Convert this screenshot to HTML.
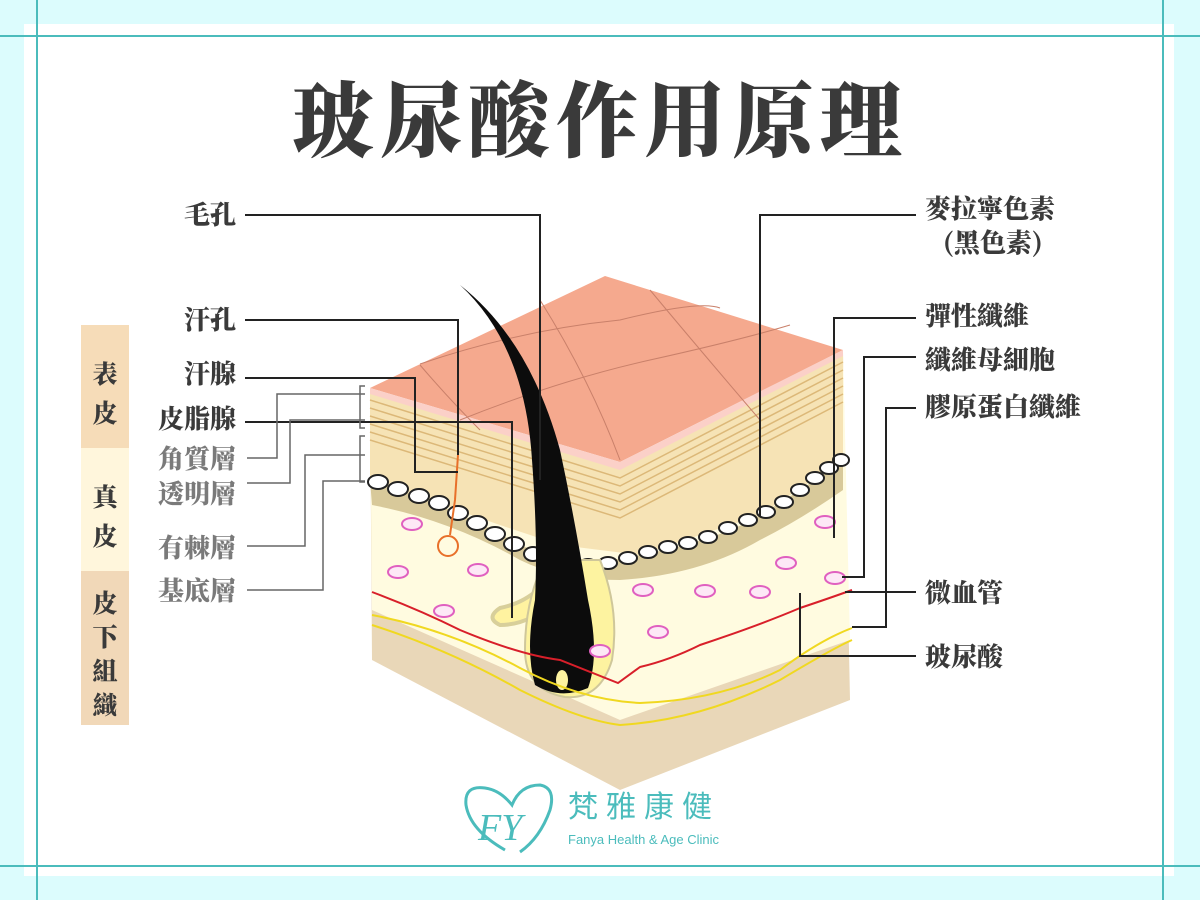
<!DOCTYPE html>
<html><head><meta charset="utf-8"><style>
html,body{margin:0;padding:0;}
body{width:1200px;height:900px;position:relative;background:#dcfcfd;overflow:hidden;font-family:"Liberation Serif","Noto Serif CJK SC",serif;}
</style></head><body>
<svg width="1200" height="900" viewBox="0 0 1200 900" style="position:absolute;left:0;top:0">
<rect x="24" y="24" width="1150" height="852" fill="#fff"/>
<line x1="0" y1="36" x2="1200" y2="36" stroke="#4bbcbc" stroke-width="2"/>
<line x1="0" y1="866" x2="1200" y2="866" stroke="#4bbcbc" stroke-width="2"/>
<line x1="37" y1="0" x2="37" y2="900" stroke="#4bbcbc" stroke-width="2"/>
<line x1="1163" y1="0" x2="1163" y2="900" stroke="#4bbcbc" stroke-width="2"/>

<text x="600" y="150" text-anchor="middle" font-size="82" font-weight="900" fill="#3a3a3a" letter-spacing="6" font-family="Noto Serif CJK SC, serif">玻尿酸作用原理</text>

<!-- side bars -->
<rect x="81" y="325" width="48" height="123" fill="#f6dcb8"/>
<rect x="81" y="448" width="48" height="123" fill="#fff6dc"/>
<rect x="81" y="571" width="48" height="154" fill="#f1d8b8"/>
<g font-size="25" font-weight="900" fill="#3a3a3a" text-anchor="middle" font-family="Noto Serif CJK SC, serif">
<text x="105" y="383">表</text><text x="105" y="422">皮</text>
<text x="105" y="506">真</text><text x="105" y="545">皮</text>
<text x="105" y="612">皮</text><text x="105" y="646">下</text><text x="105" y="680">組</text><text x="105" y="714">織</text>
</g>

<!-- skin body -->
<polygon points="370,390 620,468 843,352 850,700 620,790 372,660" fill="#e9d7b8"/>
<polygon points="370,390 620,468 843,352 850,640 620,720 372,610" fill="#fffbe0"/>
<polygon points="370,390 620,468 843,352 843,460 760,515 640,555 560,545 500,525 370,480" fill="#f6e3b5"/>
<g stroke="#dcb878" stroke-width="1.5" fill="none">
<path d="M370,400 L620,478 L843,362"/><path d="M370,408 L620,486 L843,370"/>
<path d="M370,416 L620,494 L843,378"/><path d="M370,424 L620,502 L843,386"/>
<path d="M370,432 L620,510 L843,394"/><path d="M370,440 L620,518 L843,402"/>
</g>
<path d="M370,480 Q450,505 520,545 Q580,570 640,555 Q720,540 760,515 Q810,485 843,460 L843,490 Q800,520 760,540 Q700,575 620,580 Q560,580 520,560 Q450,520 372,505 Z" fill="#d8c99a"/>
<g fill="#fff" stroke="#222" stroke-width="2">
<ellipse cx="378" cy="482" rx="10" ry="7"/><ellipse cx="398" cy="489" rx="10" ry="7"/><ellipse cx="419" cy="496" rx="10" ry="7"/><ellipse cx="439" cy="503" rx="10" ry="7"/><ellipse cx="458" cy="513" rx="10" ry="7"/><ellipse cx="477" cy="523" rx="10" ry="7"/><ellipse cx="495" cy="534" rx="10" ry="7"/><ellipse cx="514" cy="544" rx="10" ry="7"/><ellipse cx="533" cy="554" rx="9" ry="7"/>
<ellipse cx="568" cy="563" rx="9" ry="6"/><ellipse cx="588" cy="565" rx="9" ry="6"/><ellipse cx="608" cy="563" rx="9" ry="6"/><ellipse cx="628" cy="558" rx="9" ry="6"/><ellipse cx="648" cy="552" rx="9" ry="6"/><ellipse cx="668" cy="547" rx="9" ry="6"/><ellipse cx="688" cy="543" rx="9" ry="6"/><ellipse cx="708" cy="537" rx="9" ry="6"/><ellipse cx="728" cy="528" rx="9" ry="6"/><ellipse cx="748" cy="520" rx="9" ry="6"/><ellipse cx="766" cy="512" rx="9" ry="6"/><ellipse cx="784" cy="502" rx="9" ry="6"/><ellipse cx="800" cy="490" rx="9" ry="6"/><ellipse cx="815" cy="478" rx="9" ry="6"/><ellipse cx="829" cy="468" rx="9" ry="6"/><ellipse cx="841" cy="460" rx="8" ry="6"/>
</g>
<polygon points="370,388 605,276 843,350 620,462" fill="#f5a98e"/>
<polygon points="370,388 620,462 843,350 843,356 620,470 370,394" fill="#fbd0c8"/>
<g stroke="#c9806a" stroke-width="1" fill="none">
<path d="M420,364 Q520,330 620,320 Q700,300 720,308"/><path d="M460,420 Q560,380 650,360 Q740,340 790,325"/>
<path d="M540,300 Q590,380 620,460"/><path d="M650,290 Q700,350 760,420"/><path d="M420,365 Q450,400 480,430"/>
</g>
<path d="M458,455 L455,500 L450,535" stroke="#e8702a" stroke-width="2" fill="none"/>
<circle cx="448" cy="546" r="10" fill="none" stroke="#e8702a" stroke-width="2"/>
<path d="M560,560 Q540,600 500,608 Q485,618 500,625 Q530,625 555,600 Z" fill="#fff3a0" stroke="#d8cf9a" stroke-width="4"/>
<path d="M525,650 Q525,600 545,560 L600,560 Q620,610 612,660 Q600,700 565,697 Q525,690 525,650 Z" fill="#fdf3a0" stroke="#cfc79a" stroke-width="2"/>
<!-- hair -->
<path d="M460,285 Q525,345 532,460 Q538,540 535,600 Q525,650 535,685 Q560,700 588,688 Q600,655 588,600 Q575,520 560,450 Q530,340 460,285 Z" fill="#0c0c0c"/>
<ellipse cx="562" cy="680" rx="6" ry="10" fill="#fdf3a0"/>
<path d="M372,592 Q420,610 460,630 Q520,655 560,660 L618,683 L640,667 Q670,660 700,645 Q760,625 800,608 Q830,598 852,590" stroke="#d81f2a" stroke-width="2" fill="none"/>
<path d="M372,615 Q450,630 520,668 Q580,700 640,703 Q720,700 780,670 Q820,640 852,628" stroke="#f0d820" stroke-width="2" fill="none"/>
<path d="M372,625 Q450,650 520,690 Q580,720 620,725 Q700,720 780,680 Q830,650 852,640" stroke="#f0d820" stroke-width="2" fill="none"/>
<g fill="#fde8f6" stroke="#e060c0" stroke-width="2">
<ellipse cx="412" cy="524" rx="10" ry="6"/><ellipse cx="398" cy="572" rx="10" ry="6"/><ellipse cx="478" cy="570" rx="10" ry="6"/><ellipse cx="444" cy="611" rx="10" ry="6"/><ellipse cx="658" cy="632" rx="10" ry="6"/><ellipse cx="600" cy="651" rx="10" ry="6"/><ellipse cx="643" cy="590" rx="10" ry="6"/><ellipse cx="705" cy="591" rx="10" ry="6"/><ellipse cx="760" cy="592" rx="10" ry="6"/><ellipse cx="786" cy="563" rx="10" ry="6"/><ellipse cx="825" cy="522" rx="10" ry="6"/><ellipse cx="835" cy="578" rx="10" ry="6"/>
</g>

<g stroke="#222" stroke-width="2" fill="none">
<polyline points="245,215 540,215 540,480"/>
<polyline points="245,320 458,320 458,455"/>
<polyline points="245,378 415,378 415,472 458,472"/>
<polyline points="245,422 512,422 512,618"/>
<polyline points="916,215 760,215 760,516"/>
<polyline points="916,318 834,318 834,538"/>
<polyline points="916,357 864,357 864,577 842,577"/>
<polyline points="916,408 886,408 886,627 852,627"/>
<polyline points="916,592 845,592"/>
<polyline points="916,656 800,656 800,593"/>
</g>
<g stroke="#666" stroke-width="1.5" fill="none">
<polyline points="247,458 277,458 277,394 365,394"/>
<polyline points="247,483 290,483 290,420 365,420"/>
<polyline points="247,546 305,546 305,455 365,455"/>
<polyline points="247,590 323,590 323,481 365,481"/>
<path d="M365,386 L360,386 L360,428 L365,428 M365,436 L360,436 L360,482 L365,482"/>
</g>

<g font-size="26" font-weight="900" fill="#3a3a3a" text-anchor="end" font-family="Noto Serif CJK SC, serif">
<text x="236" y="224">毛孔</text>
<text x="236" y="329">汗孔</text>
<text x="236" y="383">汗腺</text>
<text x="236" y="428">皮脂腺</text>
<g fill="#7a7a7a"><text x="236" y="468">角質層</text><text x="236" y="503">透明層</text><text x="236" y="557">有棘層</text><text x="236" y="600">基底層</text></g>
</g>
<g font-size="26" font-weight="900" fill="#3a3a3a" font-family="Noto Serif CJK SC, serif">
<text x="925" y="218">麥拉寧色素</text>
<text x="943" y="252">(黑色素)</text>
<text x="925" y="325">彈性纖維</text>
<text x="925" y="369">纖維母細胞</text>
<text x="925" y="416">膠原蛋白纖維</text>
<text x="925" y="602">微血管</text>
<text x="925" y="666">玻尿酸</text>
</g>

<path d="M505,850 Q470,830 466,805 Q464,785 485,788 Q500,790 512,805 Q520,785 540,785 Q556,788 550,810 Q540,838 520,852" fill="none" stroke="#4bbcbc" stroke-width="3"/>
<text x="478" y="840" font-size="38" font-style="italic" fill="#4bbcbc" font-family="Liberation Serif, serif">FY</text>
<text x="568" y="817" font-size="30" fill="#4bbcbc" letter-spacing="8" font-family="Noto Sans CJK TC, sans-serif">梵雅康健</text>
<text x="568" y="844" font-size="13" fill="#4bbcbc" font-family="Liberation Sans, sans-serif">Fanya Health &amp; Age Clinic</text>
</svg>
</body></html>
